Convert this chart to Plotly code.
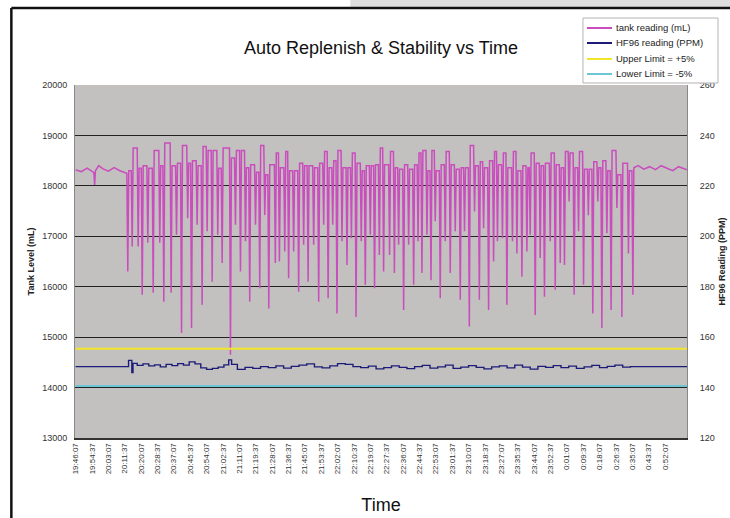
import plotly.graph_objects as go

# ---- data (minutes after 19:46:07) ----
tank_time = [0, 3, 6, 8, 9.5, 9.9, 10.3, 12, 14, 17, 20, 23, 26.6,
    27.1, 27.6, 28.9, 29.4, 29.9, 32.0, 32.5, 33.0, 34.1, 34.6, 35.1, 37.0, 37.5, 38.0, 39.8,
    40.3, 40.8, 43.2, 43.7, 44.2, 45.3, 45.8, 46.3, 49.1, 49.6, 50.1, 51.9, 52.4, 52.9, 54.5,
    55.0, 55.5, 57.7, 58.2, 58.7, 59.7, 60.2, 60.7, 62.6, 63.1, 63.6, 65.2, 65.7, 66.2, 67.8,
    68.3, 68.8, 70.4, 70.9, 71.4, 73.3, 73.8, 74.3, 75.6, 76.1, 76.6, 79.9, 80.4, 80.9, 82.5,
    83.0, 83.5, 85.1, 85.6, 86.1, 87.7, 88.2, 88.7, 89.9, 90.4, 90.9, 92.9, 93.4, 93.9, 95.1,
    95.6, 96.1, 97.7, 98.2, 98.7, 99.8, 100.3, 100.8, 103.2, 103.7, 104.2, 105.3, 105.8, 106.3,
    108.1, 108.6, 109.1, 110.1, 110.6, 111.1, 112.7, 113.2, 113.7, 115.3, 115.8, 116.3, 117.9,
    118.4, 118.9, 120.2, 120.7, 121.2, 123.1, 123.6, 124.1, 125.7, 126.2, 126.7, 128.3, 128.8,
    129.3, 130.6, 131.1, 131.6, 133.0, 133.5, 134.0, 135.2, 135.7, 136.2, 137.8, 138.3, 138.8,
    140.4, 140.9, 141.4, 142.7, 143.2, 143.7, 145.1, 145.6, 146.1, 147.8, 148.3, 148.8, 149.9,
    150.4, 150.9, 152.5, 153.0, 153.5, 154.7, 155.2, 155.7, 157.2, 157.7, 158.2, 159.4, 159.9,
    160.4, 162.5, 163.0, 163.5, 165.0, 165.5, 166.0, 167.2, 167.7, 168.2, 169.8, 170.3, 170.8,
    172.4, 172.9, 173.4, 175.0, 175.5, 176.0, 177.3, 177.8, 178.3, 179.3, 179.8, 180.3, 181.9,
    182.4, 182.9, 184.0, 184.5, 185.0, 186.2, 186.7, 187.2, 188.8, 189.3, 189.8, 191.4, 191.9,
    192.4, 194.0, 194.5, 195.0, 196.6, 197.1, 197.6, 199.2, 199.7, 200.2, 201.4, 201.9, 202.4,
    203.9, 204.4, 204.9, 206.6, 207.1, 207.6, 209.1, 209.6, 210.1, 211.3, 211.8, 212.3, 213.9,
    214.4, 214.9, 216.5, 217.0, 217.5, 218.5, 219.0, 219.5, 221.1, 221.6, 222.1, 223.4, 223.9,
    224.4, 226.3, 226.8, 227.3, 228.6, 229.1, 229.6, 231.2, 231.7, 232.2, 233.8, 234.3, 234.8,
    235.5, 236.0, 236.5, 238.1, 238.6, 239.1, 240.7, 241.2, 241.7, 242.9, 243.4, 243.9, 245.9,
    246.4, 246.9, 248.5, 249.0, 249.5, 251.1, 251.6, 252.1, 253.3, 253.8, 254.3, 255.7, 256.2,
    256.7, 258.3, 258.8, 259.3, 260.6, 261.1, 261.6, 263.2, 263.7, 264.2, 265.7, 266.2, 266.7,
    268.0, 268.5, 269.0, 270.6, 271.1, 271.6, 272.7, 273.2, 273.7, 275.3, 275.8, 276.3, 277.5,
    278.0, 278.5, 280.5, 281.0, 281.5, 283.1, 283.6, 284.1, 286.5, 287.0, 287.5, 288.8, 289.3,
    289.8, 292, 295, 298, 301, 304, 307, 310, 313, 316, 317.4]

tank_level = [18320, 18280, 18350, 18300, 18260, 18020, 18300, 18400, 18340, 18290, 18360, 18300, 18250,
    16300, 18300, 18300, 16800, 18750, 18750, 16800, 18350, 18350, 15840, 18400, 18400, 16870, 18350, 18350,
    15880, 18700, 18700, 16870, 18400, 18400, 15700, 18850, 18850, 15880, 18400, 18400, 17030, 18450, 18450,
    15080, 18800, 18800, 17360, 18450, 18450, 15180, 18500, 18500, 17230, 18400, 18400, 15640, 18780, 18780,
    17100, 18700, 18700, 16100, 18700, 18700, 17030, 18350, 18350, 16470, 18750, 18750, 14650, 18550, 18550,
    17230, 18700, 18700, 16300, 18700, 18700, 16900, 18360, 18360, 15700, 18420, 18420, 17230, 18270, 18270,
    15970, 18800, 18800, 17420, 18220, 18220, 15570, 18420, 18420, 16470, 18650, 18650, 16500, 18360,
    18360, 16700, 18680, 18680, 16170, 18300, 18300, 16700, 18300, 18300, 15900, 18450, 18450,
    16830, 18400, 18400, 16100, 18400, 18400, 16830, 18360, 18360, 15700, 18450, 18450, 17230,
    18680, 18680, 15770, 18360, 18360, 17230, 18500, 18500, 15470, 18700, 18700, 16900, 18360,
    18360, 16430, 18360, 18360, 16960, 18650, 18650, 15400, 18450, 18450, 16900, 18300, 18300,
    16040, 18400, 18400, 17030, 18400, 18400, 15970, 18420, 18420, 16630, 18750, 18750, 16300,
    18420, 18420, 16630, 18680, 18680, 16270, 18360, 18360, 16830, 18330, 18330, 15540, 18420,
    18420, 16830, 18330, 18330, 16040, 18420, 18420, 16900, 18650, 18650, 16270, 18700, 18700,
    17030, 18300, 18300, 16130, 18700, 18700, 17300, 18300, 18300, 15770, 18420, 18420, 16900,
    18680, 18680, 16270, 18420, 18420, 17100, 18330, 18330, 15740, 18360, 18360, 17100, 18360,
    18360, 15210, 18800, 18800, 17490, 18400, 18400, 15740, 18480, 18480, 17160, 18360, 18360,
    15540, 18500, 18500, 16500, 18680, 18680, 16900, 18420, 18420, 16960, 18650, 18650, 15640,
    18360, 18360, 16900, 18680, 18680, 16660, 18300, 18300, 16200, 18400, 18400, 16700, 18360,
    18360, 17030, 18650, 18650, 15440, 18450, 18450, 16570, 18400, 18400, 15800, 18450, 18450,
    16900, 18650, 18650, 15940, 18420, 18420, 16470, 18360, 18360, 16430, 18680, 18680, 17690,
    18650, 18650, 15840, 18360, 18360, 17100, 18680, 18680, 16040, 18330, 18330, 17420, 18330,
    18330, 15470, 18480, 18480, 17690, 18360, 18360, 15180, 18500, 18500, 17060, 18300, 18300,
    15540, 18700, 18700, 17560, 18220, 18220, 15400, 18450, 18450, 16660, 18300, 18300, 15840,
    18360, 18400, 18330, 18380, 18320, 18400, 18350, 18300, 18380, 18340, 18320]

hf_time = [0, 26, 27.5, 29.2, 29.8, 32, 35, 38, 41, 44, 47, 50, 53, 56, 59, 62, 65, 68, 71, 74, 77,
    79.5, 81, 84, 88, 92, 96, 100, 104, 108, 112, 116, 120, 124, 128, 132, 136, 140, 144, 148,
    152, 156, 160, 164, 168, 172, 176, 180, 184, 188, 192, 196, 200, 204, 208, 212, 216, 220,
    224, 228, 232, 236, 240, 244, 248, 252, 256, 260, 264, 268, 272, 276, 280, 284, 288, 291, 317.4]
hf_ppm = [148.3, 148.3, 150.8, 146.0, 149.6, 148.8, 149.4, 148.6, 149.0, 148.2, 149.2, 148.7, 149.5,
    148.9, 150.2, 149.4, 147.8, 147.2, 147.6, 148.1, 149.0, 151.0, 149.2, 147.2, 148.0, 147.6, 148.3,
    147.9, 148.6, 147.7, 148.4, 148.9, 149.4, 148.2, 147.8, 148.6, 149.5, 149.2, 148.3, 147.9, 148.5,
    147.4, 147.9, 148.6, 148.0, 147.5, 148.3, 148.8, 147.7, 148.2, 148.9, 147.6, 148.1, 148.7, 148.0,
    147.4, 148.2, 148.6, 147.8, 148.9, 148.1, 147.3, 148.4, 148.0, 148.7, 147.9, 148.5, 147.6, 148.2,
    148.8, 147.9, 148.4, 148.9, 148.1, 148.3, 148.3, 148.3]

limit_time = [0, 317.4]
upper_limit = [155.4, 155.4]
lower_limit = [140.6, 140.6]

tick_labels = ["19:46:07", "19:54:37", "20:03:07", "20:11:37", "20:20:07", "20:28:37", "20:37:07",
    "20:45:37", "20:54:07", "21:02:37", "21:11:07", "21:19:37", "21:28:07", "21:36:37", "21:45:07",
    "21:53:37", "22:02:07", "22:10:37", "22:19:07", "22:27:37", "22:36:07", "22:44:37", "22:53:07",
    "23:01:37", "23:10:07", "23:18:37", "23:27:07", "23:35:37", "23:44:07", "23:52:37", "0:01:07",
    "0:09:37", "0:18:07", "0:26:37", "0:35:07", "0:43:37", "0:52:07"]
tick_step_min = 8.5

series_names = ["tank reading (mL)", "HF96 reading (PPM)", "Upper Limit = +5%", "Lower Limit = -5%"]
series_colors = ["#c94dbd", "#1c1c78", "#f2e62a", "#6cc6d6"]

FONT = "Liberation Sans, Arial, sans-serif"

fig = go.Figure()
fig.add_trace(go.Scatter(x=tank_time, y=tank_level, mode="lines", name=series_names[0],
                         line=dict(color=series_colors[0], width=1.5)))
fig.add_trace(go.Scatter(x=hf_time, y=hf_ppm, mode="lines", name=series_names[1], yaxis="y2",
                         line=dict(color=series_colors[1], width=1.4, shape="hv")))
fig.add_trace(go.Scatter(x=limit_time, y=upper_limit, mode="lines", name=series_names[2], yaxis="y2",
                         line=dict(color=series_colors[2], width=2)))
fig.add_trace(go.Scatter(x=limit_time, y=lower_limit, mode="lines", name=series_names[3], yaxis="y2",
                         line=dict(color=series_colors[3], width=2)))

tickvals = [i * tick_step_min for i in range(len(tick_labels))]

# compact legend box (Excel style) drawn with shapes and annotations
legend_rows_y = [1.1615, 1.119, 1.0737, 1.0312]
shapes = [
    dict(type="rect", xref="paper", yref="paper", x0=0.45, x1=1.1, y0=1.218, y1=1.26,
         fillcolor="#dedede", line=dict(width=0), layer="below"),
    dict(type="line", xref="paper", yref="paper", x0=-0.104, x1=-0.104, y0=-0.35, y1=1.218,
         line=dict(color="#111111", width=2.5)),
    dict(type="line", xref="paper", yref="paper", x0=-0.104, x1=1.1, y0=1.218, y1=1.218,
         line=dict(color="#111111", width=2.5)),
    dict(type="rect", xref="paper", yref="paper", x0=0.830, x1=1.0507, y0=1.0057, y1=1.1898,
         fillcolor="white", line=dict(color="#b4b4b4", width=1), layer="above"),
]
annotations = []
for name, color, yy in zip(series_names, series_colors, legend_rows_y):
    shapes.append(dict(type="line", xref="paper", yref="paper", x0=0.8366, x1=0.8775, y0=yy, y1=yy,
                       line=dict(color=color, width=2), layer="above"))
    annotations.append(dict(text=name, xref="paper", yref="paper", x=0.8800, y=yy, xanchor="left",
                            yanchor="middle", showarrow=False,
                            font=dict(family=FONT, size=9.5, color="#222222")))

fig.update_layout(
    width=730, height=518,
    margin=dict(l=75, r=43, t=85, b=80, autoexpand=False),
    paper_bgcolor="white",
    plot_bgcolor="#c3c1bf",
    font=dict(family=FONT, size=9, color="#333333"),
    title=dict(text="Auto Replenish & Stability vs Time", x=0.5, xref="paper", xanchor="center",
               y=0.907, yanchor="middle", font=dict(family=FONT, size=18, color="#111111")),
    showlegend=False,
    xaxis=dict(range=[-0.3, 317.4], tickmode="array", tickvals=tickvals, ticktext=tick_labels,
               tickangle=-90, tickfont=dict(size=8, color="#333"), showgrid=False, zeroline=False,
               showline=True, linecolor="#333333", linewidth=2, ticks="", automargin=False,
               title=dict(text="Time", font=dict(family=FONT, size=18, color="#111"), standoff=25)),
    yaxis=dict(range=[13000, 20000], dtick=1000, tickformat="d", showgrid=True, gridcolor="#222222",
               gridwidth=1, zeroline=False, showline=True, linecolor="#888888", ticks="",
               ticklabelstandoff=5, tickfont=dict(size=9, color="#333"), automargin=False,
               title=dict(text="<b>Tank Level (mL)</b>", font=dict(family=FONT, size=9, color="#222"), standoff=6)),
    yaxis2=dict(range=[120, 260], dtick=20, overlaying="y", side="right", showgrid=False,
                zeroline=False, showline=True, linecolor="#888888", ticks="", automargin=False,
                ticklabelstandoff=10, tickfont=dict(size=9, color="#333"),
                title=dict(text="<b>HF96 Reading (PPM)</b>", font=dict(family=FONT, size=9, color="#222"), standoff=4)),
    shapes=shapes,
    annotations=annotations,
)

fig.write_html("out.html", config={"displayModeBar": False},
               post_script="document.body.style.margin='0px';")
